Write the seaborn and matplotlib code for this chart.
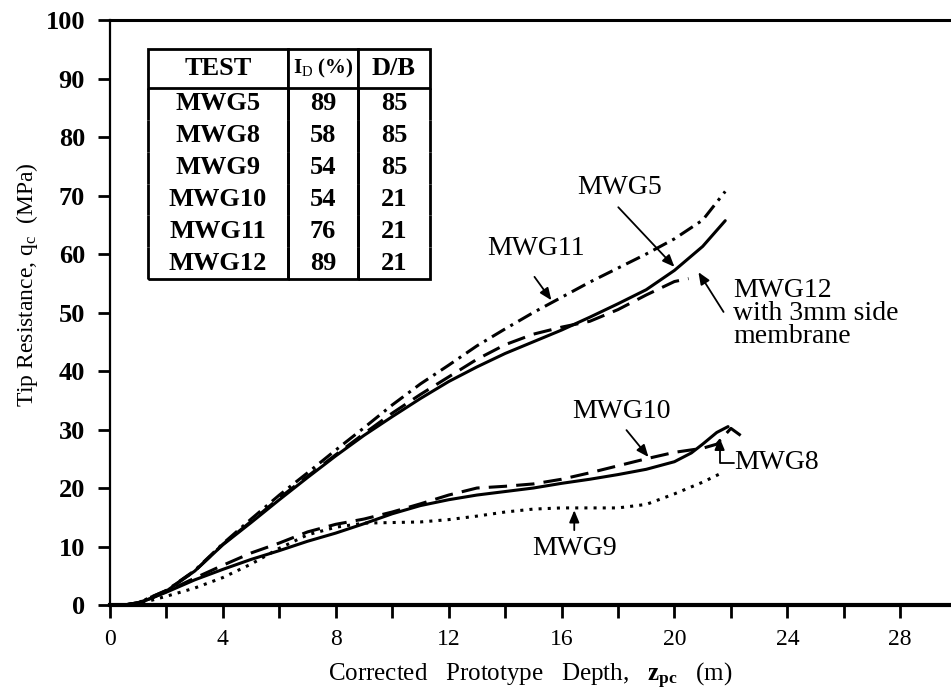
import matplotlib
matplotlib.use("Agg")
import matplotlib.pyplot as plt
import pandas as pd
import seaborn as sns

# ---------------- data ----------------
tests = ["MWG5", "MWG8", "MWG9", "MWG10", "MWG11", "MWG12"]
id_pct = ["89", "58", "54", "54", "76", "89"]
d_over_b = ["85", "85", "85", "21", "21", "21"]

mwg5_x = [0.5, 1, 1.5, 2, 3, 4, 5, 6, 7, 8, 9, 10, 11, 12, 13, 14, 15, 16, 17, 18, 19, 20, 21, 21.8]
mwg5_y = [0, 0.4, 1.2, 2.4, 5.8, 10.3, 14.1, 18.0, 21.8, 25.5, 29.0, 32.2, 35.3, 38.2, 40.7, 43.0,
          45.0, 47.0, 49.2, 51.5, 53.9, 57.2, 61.3, 65.7]

mwg11_x = [0.5, 1, 2, 3, 4, 5, 6, 7, 8, 9, 10, 11, 12, 13, 14, 15, 16, 17, 18, 19, 20, 21, 21.8]
mwg11_y = [0, 0.4, 2.5, 5.9, 10.5, 14.7, 18.8, 22.6, 26.5, 30.3, 34.2, 37.8, 41.0, 44.3, 47.2, 50.0,
           52.6, 55.2, 57.6, 60.0, 62.6, 65.8, 70.7]

mwg12_x = [0.5, 1, 2, 3, 4, 5, 6, 7, 8, 9, 10, 11, 12, 13, 14, 15, 16, 17, 18, 19, 20, 20.5]
mwg12_y = [0, 0.4, 2.5, 5.8, 10.4, 14.3, 18.3, 22.0, 25.7, 29.3, 32.8, 36.0, 39.0, 42.0, 44.5, 46.3,
           47.5, 48.5, 50.5, 53.0, 55.3, 55.8]

mwg8_x = [0.5, 1, 2, 3, 4, 5, 6, 7, 8, 9, 10, 11, 12, 13, 14, 15, 16, 17, 18, 19, 20, 20.6, 21, 21.5, 21.9]
mwg8_y = [0, 0.3, 2.2, 4.3, 6.1, 7.8, 9.3, 10.9, 12.3, 13.9, 15.6, 17.0, 18.0, 18.8, 19.4, 20.0,
          20.8, 21.5, 22.3, 23.2, 24.5, 26.0, 27.5, 29.5, 30.5]

mwg10_x = [0.5, 1, 2, 3, 4, 5, 6, 7, 8, 9, 10, 11, 12, 13, 14, 15, 16, 17, 18, 19, 20, 21, 21.5, 22, 22.4]
mwg10_y = [0, 0.3, 2.3, 4.6, 6.8, 8.9, 10.6, 12.5, 13.8, 14.7, 15.9, 17.3, 18.8, 20.0, 20.3, 20.7,
           21.5, 22.6, 23.8, 25.0, 26.1, 26.8, 27.5, 30.2, 28.8]

mwg9_x = [0.5, 1, 2, 3, 4, 5, 6, 7, 8, 9, 10, 11, 12, 13, 14, 15, 16, 17, 18, 19, 20, 21, 21.6]
mwg9_y = [0, 0.2, 1.5, 2.9, 4.7, 7.0, 9.7, 12.0, 13.3, 14.0, 14.1, 14.2, 14.6, 15.2, 15.9, 16.4,
          16.6, 16.6, 16.6, 17.2, 19.0, 21.0, 22.4]

xtick_vals = [0, 4, 8, 12, 16, 20, 24, 28]
xtick_labels = ["0", "4", "8", "12", "16", "20", "24", "28"]
xminor_vals = [2, 6, 10, 14, 18, 22, 26]
ytick_vals = [0, 10, 20, 30, 40, 50, 60, 70, 80, 90, 100]

series = {
    "MWG5": (mwg5_x, mwg5_y),
    "MWG8": (mwg8_x, mwg8_y),
    "MWG9": (mwg9_x, mwg9_y),
    "MWG10": (mwg10_x, mwg10_y),
    "MWG11": (mwg11_x, mwg11_y),
    "MWG12": (mwg12_x, mwg12_y),
}
df = pd.concat(
    [pd.DataFrame({"x": xs, "y": ys, "test": name}) for name, (xs, ys) in series.items()],
    ignore_index=True,
)

# ---------------- style ----------------
sns.set_theme(style="white")
plt.rcParams["font.family"] = ["Liberation Serif", "DejaVu Serif"]
plt.rcParams["mathtext.fontset"] = "custom"
plt.rcParams["mathtext.rm"] = "Liberation Serif"
plt.rcParams["mathtext.it"] = "Liberation Serif:italic"
plt.rcParams["mathtext.bf"] = "Liberation Serif:bold"
plt.rcParams["text.color"] = "black"
plt.rcParams["axes.labelcolor"] = "black"

fig = plt.figure(figsize=(9.51, 6.98), dpi=100)
ax = fig.add_axes([0.1157, 0.1332, 0.8843, 0.8381])

dashes = {
    "MWG5": "",
    "MWG8": "",
    "MWG9": (1, 2),
    "MWG10": (6, 3),
    "MWG11": (5, 2, 1, 2),
    "MWG12": (6, 3),
}
sns.lineplot(data=df, x="x", y="y", style="test", dashes=dashes, color="black",
             linewidth=2.2, estimator=None, sort=False, legend=False, ax=ax)

ax.set_xlim(0, 29.8)
ax.set_ylim(0, 100)
ax.set_xticks(xtick_vals)
ax.set_xticklabels(xtick_labels)
ax.set_xticks(xminor_vals, minor=True)
ax.set_yticks(ytick_vals)
ax.set_yticklabels([str(v) for v in ytick_vals])

ax.tick_params(axis="x", which="both", direction="out", length=9, width=2, pad=8,
               labelsize=17, bottom=True, colors="black")
ax.tick_params(axis="y", which="both", direction="out", length=9, width=2, pad=9,
               labelsize=19, left=True, colors="black")
for lbl in ax.get_yticklabels():
    lbl.set_fontweight("bold")

ax.spines["right"].set_visible(False)
for s, lw in (("top", 2.2), ("bottom", 3.0), ("left", 1.6)):
    ax.spines[s].set_color("black")
    ax.spines[s].set_linewidth(lw)

ax.set_xlabel(r"Corrected   Prototype   Depth,   $\mathbf{z_{pc}}$   (m)", fontsize=18, color="black")
ax.xaxis.set_label_coords(0.5, -0.095)
ax.set_ylabel(r"Tip Resistance, q$_{\mathrm{c}}$  (MPa)", fontsize=17, color="black")
ax.yaxis.set_label_coords(-0.083, 0.547)

# ---------------- table ----------------
cell_text = [[t, i, d] for t, i, d in zip(tests, id_pct, d_over_b)]
col_labels = ["TEST", r"I$_{\mathrm{D}}$ (%)", "D/B"]
tbl = ax.table(cellText=cell_text, colLabels=col_labels, cellLoc="center",
               colWidths=[140, 70, 72], bbox=[0.0452, 0.5573, 0.3353, 0.3931])
tbl.auto_set_font_size(False)
tbl.set_fontsize(19)
nrows = len(tests)
for (r, c), cell in tbl.get_celld().items():
    cell.set_linewidth(2.0)
    cell.set_edgecolor("black")
    cell.set_facecolor("white")
    cell.get_text().set_fontweight("bold")
    cell.get_text().set_color("black")
    if r == 0:
        cell.visible_edges = "closed"
        cell.set_height(39)
    else:
        cell.set_height(31.8)
        cell.visible_edges = "BLR" if r == nrows else "LR"
tbl[(0, 1)].get_text().set_fontsize(15)

# ---------------- annotations ----------------
arrow = dict(arrowstyle="-|>,head_length=0.6,head_width=0.25", color="black", lw=1.3,
             shrinkA=0, shrinkB=0)
fs = 20
ax.text(18.05, 71.3, "MWG5", ha="center", va="center", fontsize=fs, color="black")
ax.annotate("", xy=(20.0, 57.8), xytext=(18.01, 68.0), arrowprops=arrow)

ax.text(15.11, 61.0, "MWG11", ha="center", va="center", fontsize=fs, color="black")
ax.annotate("", xy=(15.64, 52.1), xytext=(15.04, 56.1), arrowprops=arrow)

ax.text(22.09, 49.9, "MWG12\nwith 3mm side\nmembrane", ha="left", va="center",
        fontsize=fs, linespacing=0.9, color="black")
ax.annotate("", xy=(20.85, 56.9), xytext=(21.74, 50.1), arrowprops=arrow)

ax.text(18.12, 33.0, "MWG10", ha="center", va="center", fontsize=fs, color="black")
ax.annotate("", xy=(19.08, 25.3), xytext=(18.30, 29.9), arrowprops=arrow)

ax.text(22.13, 24.3, "MWG8", ha="left", va="center", fontsize=fs, color="black")
ax.annotate("", xy=(21.6, 28.6), xytext=(22.1, 24.3),
            arrowprops=dict(arrow, connectionstyle="angle,angleA=0,angleB=90,rad=0"))

ax.text(16.45, 9.7, "MWG9", ha="center", va="center", fontsize=fs, color="black")
ax.annotate("", xy=(16.45, 16.2), xytext=(16.45, 12.8), arrowprops=arrow)

fig.savefig("out.png", dpi=100)
